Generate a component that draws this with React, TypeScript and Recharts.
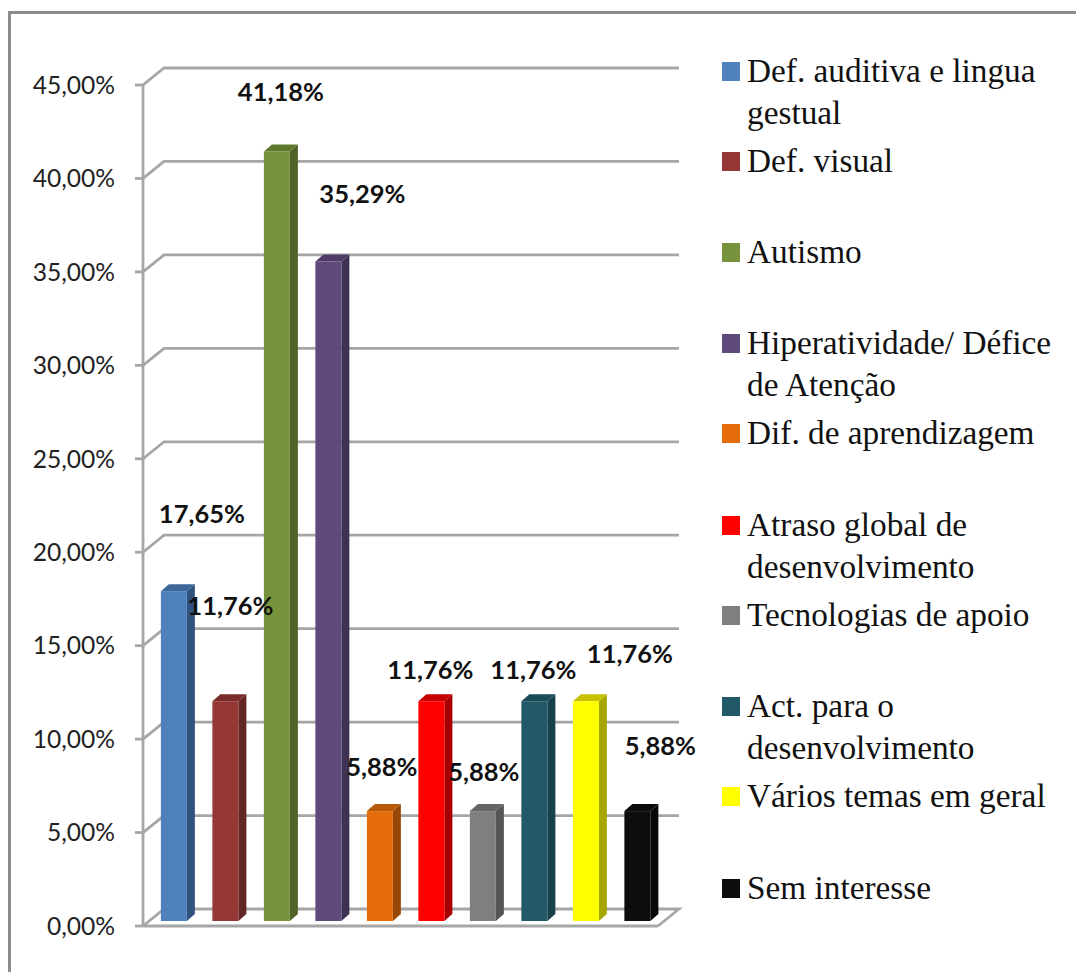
import React from 'react'
import { Bar, BarChart, CartesianGrid, Cell, LabelList, XAxis, YAxis } from 'recharts'

const categories = [
  'Def. auditiva e lingua gestual',
  'Def. visual',
  'Autismo',
  'Hiperatividade/ Défice de Atenção',
  'Dif. de aprendizagem',
  'Atraso global de desenvolvimento',
  'Tecnologias de apoio',
  'Act. para o desenvolvimento',
  'Vários temas em geral',
  'Sem interesse',
]
const values = [17.65, 11.76, 41.18, 35.29, 5.88, 11.76, 5.88, 11.76, 11.76, 5.88]
const yTicks = [0, 5, 10, 15, 20, 25, 30, 35, 40, 45]

const frontColors = ['#4F81BD', '#953735', '#77933C', '#604A7B', '#E46C0A', '#FF0000', '#7F7F7F', '#215968', '#FFFF00', '#0D0D0D']
const sideColors = ['#2F527F', '#632523', '#4F6228', '#3F3151', '#974806', '#A80000', '#555555', '#17404A', '#A6A600', '#080808']
const topColors = ['#3F689A', '#7A2D2B', '#5F7A2E', '#4E3C66', '#B85A08', '#C80000', '#666666', '#1B4A57', '#C8C000', '#0A0A0A']

// labels in the original were dragged around by hand, so each has its own nudge from the bar top
const labelNudges = [[28, -78], [5, -96], [4, -60], [34, -68], [2, -45], [-1, -32], [1, -40], [-1, -32], [44, -48], [23, -66]]
// the legend rows are not evenly spaced either
const legendLines = [
  ['Def. auditiva e lingua', 'gestual'],
  ['Def. visual'],
  ['Autismo'],
  ['Hiperatividade/ Défice', 'de Atenção'],
  ['Dif. de aprendizagem'],
  ['Atraso global de', 'desenvolvimento'],
  ['Tecnologias de apoio'],
  ['Act. para o', 'desenvolvimento'],
  ['Vários temas em geral'],
  ['Sem interesse'],
]
const legendTops = [50, 140, 231, 322, 412, 504, 594, 685, 775, 867]

const data = categories.map((name, i) => ({ name, value: values[i] }))

const GRID = '#A6A6A6'
const DEPTH_X = 21
const DEPTH_Y = 17
const BAR_SHIFT = 5
const FLOOR_Y = 926
const fmt = (v: number) => `${v.toFixed(2).replace('.', ',')}%`

function GridLine(props: any) {
  const { x1, x2, y1 } = props
  const isFloor = Math.abs(y1 - FLOOR_Y) < 1
  const back = `${x1},${y1} ${x1 + DEPTH_X},${y1 - DEPTH_Y} ${x2 + DEPTH_X},${y1 - DEPTH_Y}`
  return (
    <polyline
      // the floor closes into a parallelogram on the right
      points={isFloor ? `${back} ${x2},${y1}` : back}
      fill="none"
      stroke={GRID}
      strokeWidth={2.8}
    />
  )
}

function Bar3D(props: any) {
  const { x, y, width, height, index } = props
  const left = x + BAR_SHIFT
  const top = y - BAR_SHIFT
  const right = left + width
  const bottom = top + height
  const dx = 8
  const dy = 7
  return (
    <g>
      <polygon
        points={`${right},${top} ${right + dx},${top - dy} ${right + dx},${bottom - dy} ${right},${bottom}`}
        fill={sideColors[index]}
      />
      <polygon
        points={`${left},${top} ${left + dx},${top - dy} ${right + dx},${top - dy} ${right},${top}`}
        fill={topColors[index]}
      />
      <rect x={left} y={top} width={width} height={height} fill={frontColors[index]} />
    </g>
  )
}

function BarLabel(props: any) {
  const { x, y, width, index, value } = props
  const [dx, dy] = labelNudges[index]
  return (
    <text
      x={x + BAR_SHIFT + width / 2 + dx}
      y={y - BAR_SHIFT + dy}
      textAnchor="middle"
      dominantBaseline="central"
      fontFamily="Lato"
      fontWeight={700}
      fontSize={25.5}
      fill="#111"
    >
      {fmt(value)}
    </text>
  )
}

function LegendBlock() {
  return (
    <div style={{ position: 'absolute', left: 0, top: 0, width: 1076, height: 972, pointerEvents: 'none' }}>
      {legendLines.map((lines, i) => (
        <div key={i} style={{ position: 'absolute', left: 722, top: legendTops[i] }}>
          <div
            style={{
              position: 'absolute',
              left: 0,
              top: 12,
              width: 18,
              height: 19,
              background: frontColors[i],
            }}
          />
          <div
            style={{
              marginLeft: 25,
              fontFamily: 'Liberation Serif',
              fontSize: 33.3,
              lineHeight: '42px',
              color: '#111',
              whiteSpace: 'nowrap',
            }}
          >
            {lines.map((l) => (
              <div key={l}>{l}</div>
            ))}
          </div>
        </div>
      ))}
    </div>
  )
}

export default function App() {
  return (
    <div style={{ position: 'absolute', left: 0, top: 0, width: 1076, height: 972, background: '#fff', overflow: 'hidden' }}>
      {/* frame only shows on the top and left of the crop */}
      <div style={{ position: 'absolute', left: 8, top: 11, width: 1068, height: 3, background: '#8C8C8C' }} />
      <div style={{ position: 'absolute', left: 8, top: 11, width: 3, height: 961, background: '#8C8C8C' }} />
      <BarChart
        width={1076}
        height={972}
        data={data}
        margin={{ top: 85, right: 418, bottom: 0, left: 0 }}
        barCategoryGap="25%"
        style={{ position: 'absolute', left: 0, top: 0 }}
      >
        <CartesianGrid vertical={false} horizontal={(p: any) => <GridLine key={p.key} {...p} />} />
        <XAxis
          dataKey="name"
          height={46}
          tick={false}
          tickLine={false}
          axisLine={{ stroke: GRID, strokeWidth: 2.8 }}
        />
        <YAxis
          type="number"
          domain={[0, 45]}
          ticks={yTicks}
          tickFormatter={fmt}
          tick={{ fill: '#222', fontSize: 24.6, fontFamily: 'Lato' }}
          tickLine={{ stroke: GRID, strokeWidth: 2.8 }}
          tickSize={8}
          tickMargin={20}
          axisLine={{ stroke: GRID, strokeWidth: 2.8 }}
          width={143}
          interval={0}
        />
        <Bar dataKey="value" isAnimationActive={false} shape={<Bar3D />}>
          {data.map((d) => (
            <Cell key={d.name} />
          ))}
          <LabelList dataKey="value" content={<BarLabel />} />
        </Bar>
      </BarChart>
      <LegendBlock />
    </div>
  )
}
